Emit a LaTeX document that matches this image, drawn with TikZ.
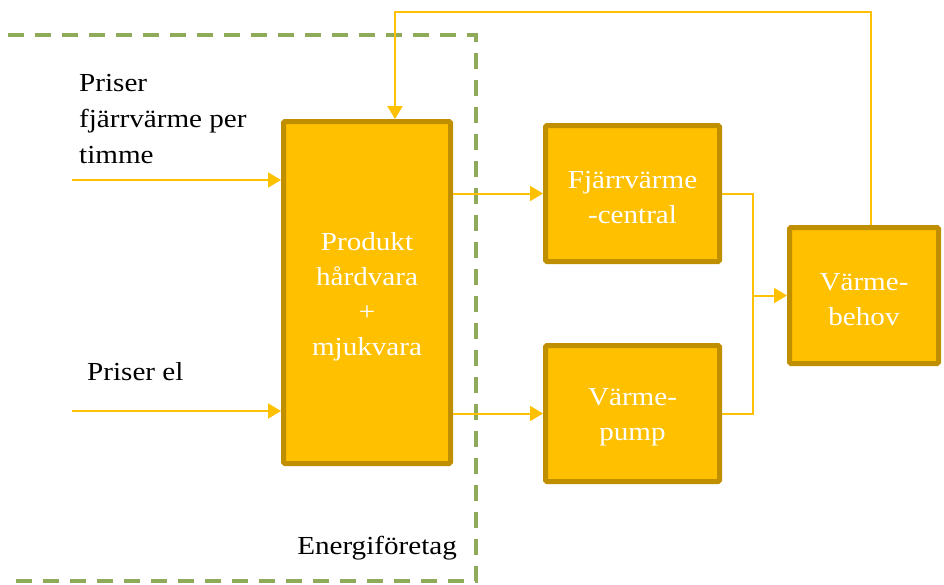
\documentclass[tikz,border=0pt]{standalone}
\usepackage{fontspec}
\setmainfont[FakeStretch=1.12]{Liberation Serif}
\usetikzlibrary{arrows.meta,calc}
\definecolor{boxfill}{HTML}{FFC000}
\definecolor{boxedge}{HTML}{BF8F00}
\definecolor{flow}{HTML}{FFC000}
\definecolor{frame}{HTML}{8FAA5A}
\tikzset{
  unit/.style={draw=boxedge, fill=boxfill, line width=5pt, rounded corners=1.5pt,
    inner sep=0pt},
  unittext/.style={text=white, align=center, inner sep=0pt, yshift=-4pt,
    font=\fontsize{26}{35}\selectfont},
  conn/.style={draw=flow, line width=2pt, -{Triangle[length=13pt,width=15pt]}},
  plain/.style={draw=flow, line width=2pt},
  lbl/.style={text=black, align=left, inner sep=0pt, font=\fontsize{26}{36}\selectfont},
}
\begin{document}
\begin{tikzpicture}[x=1pt,y=-1pt]
\useasboundingbox (0,0) rectangle (944,584);

% company boundary
\draw[frame, line width=4pt, dash pattern=on 16pt off 11pt]
  (8,35) -- (476,35) -- (476,581) -- (8,581);
\node[lbl, anchor=south east] (comp) at (457,560) {Energiföretag};

% blocks
\node[unit, minimum width=167pt, minimum height=342pt,
  label={[unittext]center:{Produkt\\hårdvara\\+\\mjukvara}}] (prod) at (367,292.5) {};
\node[unit, minimum width=174pt, minimum height=136pt,
  label={[unittext]center:{Fjärrvärme\\-central}}] (fjv) at (632.5,193.5) {};
\node[unit, minimum width=174pt, minimum height=136pt,
  label={[unittext]center:{Värme-\\pump}}] (vp) at (632.5,413.5) {};
\node[unit, minimum width=149pt, minimum height=136pt,
  label={[unittext]center:{Värme-\\behov}}] (beh) at (864,295.5) {};

% input labels
\node[lbl, anchor=north west] (pf) at (79,74) {Priser\\fjärrvärme per\\timme};
\node[lbl, anchor=west] (pe) at (87,372) {Priser el};

% inputs
\coordinate (inA) at (72,180);
\coordinate (inB) at (72,411);
\draw[conn] (inA) -- (prod.west |- inA);
\draw[conn] (inB) -- (prod.west |- inB);

% product to plants
\draw[conn] (prod.east |- fjv.west) -- (fjv.west);
\draw[conn] (prod.east |- vp.west) -- (vp.west);

% plants to demand
\coordinate (j) at (753,295.5);
\draw[plain] (fjv.east) -| (j);
\draw[plain] (vp.east) -| (j);
\draw[conn] (j) -- (beh.west);

% feedback from demand
\coordinate (fbR) at (871,12);
\coordinate (fbL) at (395,12);
\draw[conn] (beh.north -| fbR) -- (fbR) -- (fbL) -- (prod.north -| fbL);
\end{tikzpicture}
\end{document}
